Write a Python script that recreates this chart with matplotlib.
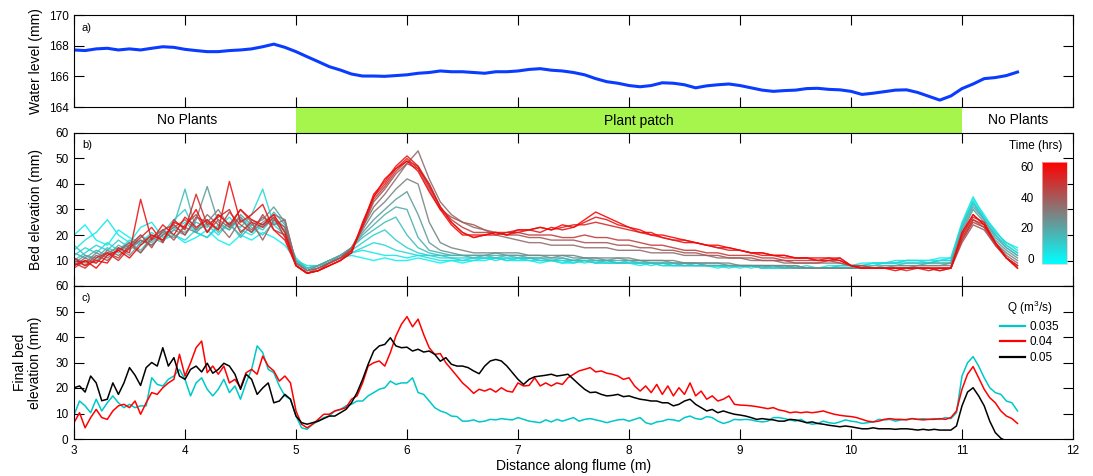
import numpy as np
import matplotlib

matplotlib.use("Agg")
import matplotlib.pyplot as plt  # noqa: E402
from matplotlib.cm import ScalarMappable  # noqa: E402
from matplotlib.colors import LinearSegmentedColormap, Normalize  # noqa: E402
from matplotlib.lines import Line2D  # noqa: E402

plt.rcParams["font.family"] = ["Liberation Sans", "DejaVu Sans"]
plt.rcParams["mathtext.fontset"] = "custom"
plt.rcParams["mathtext.rm"] = "Liberation Sans"

# ---- a) water level, sampled every 0.1 m from 3.0 to 11.5 m ----
wl_distance = np.round(np.arange(3.0, 11.55, 0.1), 2)
water_level = [
    167.72, 167.68, 167.79, 167.83, 167.72, 167.79, 167.72, 167.83, 167.93, 167.89,
    167.76, 167.68, 167.61, 167.61, 167.68, 167.72, 167.79, 167.93, 168.10, 167.89,
    167.61, 167.28, 166.96, 166.63, 166.41, 166.15, 166.02, 166.02, 166.00, 166.05,
    166.10, 166.20, 166.25, 166.35, 166.30, 166.30, 166.25, 166.20, 166.30, 166.30,
    166.35, 166.45, 166.50, 166.40, 166.35, 166.25, 166.10, 165.85, 165.65, 165.55,
    165.40, 165.32, 165.40, 165.58, 165.55, 165.45, 165.25, 165.38, 165.45, 165.50,
    165.40, 165.25, 165.10, 165.02, 165.07, 165.10, 165.20, 165.22, 165.15, 165.12,
    165.02, 164.82, 164.90, 165.00, 165.10, 165.12, 164.95, 164.70, 164.45, 164.72,
    165.20, 165.50, 165.85, 165.92, 166.05, 166.28,
]

# ---- b) bed profiles through time, sampled every 0.1 m ----
bed_distance = np.round(np.arange(3.0, 11.55, 0.1), 2)
bed_times = [0, 3, 6, 9, 13, 17, 22, 28, 34, 40, 46, 52, 57, 62]
bed_profiles = [
    [20, 24, 18, 16, 22, 19, 17, 21, 18, 20, 17, 19, 22, 18, 16, 20, 18, 21, 19, 16,
     10, 7, 8, 9, 11, 12, 11, 10, 11, 10, 10, 11, 10, 9, 10, 9, 10, 10, 11, 10,
     10, 10, 9, 10, 9, 9, 10, 9, 9, 9, 9, 8, 9, 8, 8, 8, 9, 8, 7, 8,
     7, 8, 7, 7, 8, 7, 7, 7, 8, 8, 8, 8, 9, 9, 9, 10, 10, 10, 11, 11,
     24, 34, 28, 21, 17, 15],
    [14, 18, 21, 26, 20, 17, 23, 25, 19, 22, 25, 21, 19, 23, 27, 22, 20, 24, 26, 21,
     11, 7, 8, 10, 11, 13, 14, 13, 12, 12, 11, 12, 11, 10, 10, 10, 10, 11, 10, 11,
     10, 11, 10, 10, 9, 10, 9, 10, 9, 9, 9, 9, 8, 9, 8, 8, 8, 8, 8, 7,
     8, 7, 8, 7, 7, 8, 7, 7, 7, 8, 8, 9, 9, 9, 10, 10, 10, 10, 10, 11,
     25, 35, 27, 22, 16, 13],
    [12, 15, 13, 17, 14, 18, 16, 19, 22, 20, 18, 22, 24, 20, 25, 23, 28, 38, 24, 20,
     10, 8, 8, 10, 12, 13, 15, 17, 16, 14, 13, 12, 12, 11, 11, 10, 11, 11, 11, 10,
     11, 10, 10, 10, 10, 9, 10, 9, 9, 9, 9, 9, 9, 8, 8, 9, 8, 8, 8, 8,
     8, 8, 7, 7, 8, 7, 8, 7, 7, 8, 8, 8, 9, 9, 9, 10, 10, 9, 10, 10,
     23, 33, 27, 21, 17, 14],
    [10, 13, 16, 14, 18, 15, 20, 17, 21, 26, 30, 21, 19, 24, 22, 27, 23, 20, 25, 22,
     10, 7, 8, 9, 12, 14, 17, 20, 22, 18, 15, 13, 12, 12, 11, 11, 11, 11, 11, 11,
     11, 11, 10, 10, 10, 10, 10, 9, 10, 9, 9, 9, 9, 9, 8, 8, 8, 8, 8, 8,
     8, 8, 8, 7, 7, 8, 7, 7, 7, 7, 7, 8, 8, 9, 9, 9, 9, 9, 10, 10,
     24, 33, 26, 20, 16, 13],
    [16, 12, 11, 15, 13, 17, 14, 19, 17, 24, 38, 22, 26, 21, 25, 19, 24, 22, 27, 23,
     9, 7, 8, 10, 12, 15, 19, 22, 25, 27, 20, 15, 13, 12, 12, 12, 11, 12, 11, 12,
     11, 11, 11, 10, 11, 10, 10, 10, 10, 9, 10, 9, 9, 9, 9, 8, 8, 8, 8, 8,
     8, 8, 7, 8, 7, 7, 7, 7, 7, 7, 7, 7, 8, 8, 8, 9, 9, 9, 9, 9,
     23, 32, 26, 20, 15, 12],
    [13, 11, 14, 12, 16, 14, 18, 16, 20, 23, 21, 25, 23, 28, 24, 20, 26, 23, 29, 24,
     10, 6, 8, 10, 12, 15, 20, 24, 28, 31, 30, 19, 14, 13, 12, 12, 12, 12, 12, 12,
     12, 11, 11, 11, 11, 10, 11, 10, 10, 10, 10, 10, 9, 9, 9, 9, 9, 8, 8, 8,
     8, 8, 8, 8, 7, 7, 7, 7, 7, 7, 7, 7, 7, 8, 8, 8, 8, 9, 9, 9,
     22, 31, 26, 19, 15, 12],
    [9, 12, 10, 13, 15, 12, 17, 20, 18, 22, 20, 26, 39, 25, 22, 28, 24, 26, 31, 25,
     9, 6, 8, 10, 12, 15, 21, 26, 30, 34, 37, 28, 17, 14, 13, 12, 12, 12, 13, 12,
     12, 12, 12, 11, 12, 11, 11, 11, 10, 11, 10, 10, 10, 10, 9, 9, 9, 9, 9, 8,
     8, 8, 8, 8, 8, 7, 7, 7, 7, 7, 7, 7, 7, 7, 8, 8, 8, 8, 8, 9,
     21, 30, 25, 18, 14, 11],
    [11, 9, 13, 11, 14, 16, 13, 18, 21, 19, 23, 21, 25, 30, 23, 27, 21, 25, 28, 26,
     9, 6, 7, 9, 11, 15, 22, 29, 33, 38, 42, 40, 25, 17, 15, 14, 13, 13, 13, 13,
     13, 12, 12, 12, 12, 12, 11, 11, 11, 11, 11, 10, 10, 10, 10, 9, 9, 9, 9, 9,
     8, 8, 8, 8, 8, 8, 7, 7, 7, 7, 7, 7, 7, 7, 7, 7, 8, 8, 8, 8,
     20, 28, 24, 17, 13, 10],
    [8, 11, 9, 14, 12, 15, 18, 16, 20, 23, 26, 22, 28, 24, 19, 26, 22, 27, 24, 26,
     9, 6, 7, 9, 11, 15, 23, 31, 36, 42, 48, 53, 42, 33, 28, 25, 23, 22, 20, 19,
     18, 17, 17, 16, 16, 16, 15, 15, 15, 14, 14, 14, 13, 13, 13, 12, 12, 12, 11, 11,
     11, 10, 10, 10, 9, 9, 9, 9, 9, 9, 8, 8, 7, 7, 7, 7, 7, 7, 7, 7,
     18, 26, 23, 17, 12, 9],
    [10, 8, 12, 10, 14, 17, 13, 19, 22, 18, 24, 28, 21, 26, 23, 30, 25, 18, 26, 23,
     8, 5, 7, 9, 11, 14, 23, 33, 38, 44, 48, 46, 38, 30, 27, 25, 24, 22, 21, 20,
     20, 19, 19, 18, 18, 18, 17, 17, 17, 16, 16, 15, 15, 14, 14, 13, 13, 12, 12, 11,
     11, 11, 10, 10, 10, 9, 9, 9, 10, 9, 8, 8, 7, 7, 7, 7, 7, 7, 7, 7,
     17, 24, 22, 16, 11, 8],
    [7, 10, 9, 13, 11, 16, 20, 15, 22, 24, 20, 27, 25, 22, 29, 24, 21, 28, 22, 20,
     8, 5, 6, 9, 11, 14, 23, 34, 39, 45, 49, 47, 40, 31, 26, 23, 21, 21, 21, 20,
     21, 20, 20, 20, 19, 19, 20, 19, 19, 18, 18, 17, 16, 16, 15, 14, 14, 13, 13, 12,
     12, 12, 11, 11, 10, 10, 10, 10, 10, 10, 8, 7, 7, 7, 7, 6, 7, 7, 6, 7,
     18, 25, 23, 16, 11, 8],
    [9, 7, 11, 13, 10, 15, 19, 23, 17, 26, 22, 36, 24, 27, 30, 21, 25, 23, 27, 19,
     8, 5, 6, 8, 10, 14, 24, 35, 40, 46, 50, 46, 40, 31, 25, 21, 19, 20, 21, 21,
     22, 22, 23, 22, 23, 24, 24, 25, 24, 23, 22, 21, 20, 19, 18, 18, 17, 16, 15, 14,
     14, 13, 12, 12, 11, 11, 11, 10, 11, 11, 8, 7, 7, 7, 7, 7, 7, 6, 7, 7,
     19, 26, 24, 17, 11, 8],
    [11, 8, 10, 9, 15, 13, 34, 18, 24, 20, 27, 23, 26, 22, 41, 25, 28, 32, 22, 18,
     8, 5, 6, 8, 10, 13, 24, 36, 41, 47, 51, 47, 39, 31, 25, 21, 19, 20, 20, 21,
     21, 22, 21, 23, 22, 23, 25, 27, 26, 24, 23, 21, 21, 19, 18, 17, 17, 16, 15, 15,
     14, 13, 13, 12, 12, 11, 11, 10, 10, 11, 8, 7, 7, 7, 6, 7, 7, 7, 6, 7,
     20, 27, 25, 17, 11, 7],
    [8, 10, 7, 12, 14, 11, 16, 20, 18, 25, 23, 30, 21, 28, 24, 30, 26, 24, 28, 21,
     8, 5, 6, 8, 10, 13, 25, 35, 42, 46, 49, 45, 37, 30, 24, 20, 20, 20, 21, 20,
     22, 22, 23, 22, 24, 23, 26, 29, 27, 25, 23, 22, 20, 20, 19, 18, 17, 16, 16, 15,
     14, 13, 13, 12, 12, 11, 11, 11, 11, 10, 8, 7, 7, 7, 7, 7, 7, 7, 7, 7,
     21, 28, 24, 17, 11, 7],
]

# ---- c) final bed for three discharges, sampled every 0.05 m ----
final_distance = np.round(np.arange(3.0, 11.525, 0.05), 2)
discharges = ["0.035", "0.04", "0.05"]
final_q035 = [
    9.4, 14.9, 13.0, 10.3, 15.6, 11.0, 14.2, 16.9, 14.2, 12.3,
    13.6, 12.3, 13.0, 13.0, 24.0, 21.4, 20.8, 23.4, 24.7, 27.3,
    23.4, 16.9, 22.0, 24.0, 19.5, 16.9, 19.5, 23.4, 18.2, 20.8,
    15.6, 22.0, 27.3, 36.5, 33.9, 27.3, 26.0, 20.8, 16.9, 15.6,
    9.0, 4.4, 3.8, 5.8, 7.0, 8.4, 9.0, 11.0, 11.6, 13.0,
    13.6, 14.9, 14.9, 16.9, 18.2, 19.5, 20.1, 22.7, 21.4, 22.0,
    22.0, 24.0, 18.2, 17.5, 14.9, 12.3, 11.0, 10.3, 9.0, 8.8,
    7.0, 7.0, 7.5, 6.7, 7.0, 7.7, 7.5, 8.0, 7.7, 7.5,
    8.4, 7.7, 7.0, 6.7, 6.4, 7.5, 6.7, 7.7, 7.0, 7.7,
    8.4, 7.0, 7.7, 8.0, 7.5, 7.0, 6.4, 7.0, 7.5, 7.7,
    7.0, 7.7, 8.4, 6.4, 5.8, 6.7, 7.0, 7.7, 7.5, 7.0,
    8.4, 9.0, 8.0, 7.7, 8.8, 8.4, 7.0, 6.1, 6.7, 7.7,
    7.5, 7.7, 7.5, 7.0, 6.7, 7.0, 8.4, 8.4, 8.0, 7.5,
    7.0, 7.7, 6.4, 5.8, 6.1, 7.0, 6.4, 6.1, 6.7, 7.5,
    7.0, 6.7, 6.1, 6.4, 6.7, 7.7, 7.5, 7.7, 7.0, 7.5,
    7.7, 8.0, 7.7, 8.0, 7.7, 8.0, 7.7, 8.4, 8.0, 10.3,
    24.7, 29.9, 32.3, 28.6, 24.0, 20.1, 18.2, 17.5, 14.9, 14.2, 11.0,
]
final_q04 = [
    6.4, 10.3, 4.4, 8.4, 11.6, 8.4, 7.7, 11.0, 13.0, 13.6,
    12.3, 14.9, 9.7, 14.2, 18.2, 17.5, 20.1, 22.0, 23.4, 33.2,
    24.7, 29.9, 35.8, 38.4, 26.0, 28.6, 25.4, 28.6, 22.0, 23.4,
    20.1, 26.0, 27.3, 25.4, 32.5, 28.6, 26.7, 22.7, 24.7, 22.0,
    11.0, 5.8, 4.4, 5.8, 7.7, 9.7, 9.7, 11.0, 11.6, 12.3,
    15.6, 16.9, 22.0, 28.6, 29.9, 30.6, 28.6, 33.9, 40.4, 45.0,
    48.0, 44.0, 47.0, 41.0, 35.8, 33.2, 33.5, 29.9, 27.3, 24.7,
    22.0, 20.1, 17.9, 19.5, 18.8, 19.7, 18.4, 20.1, 18.8, 18.4,
    22.0, 20.8, 21.0, 24.0, 20.8, 22.0, 20.8, 22.0, 21.4, 24.0,
    25.4, 26.7, 27.3, 28.0, 26.3, 26.7, 25.8, 25.4, 24.7, 23.4,
    24.0, 20.8, 18.8, 20.8, 18.2, 21.4, 17.5, 20.8, 16.9, 20.1,
    17.5, 22.0, 16.9, 18.8, 15.6, 16.9, 14.9, 15.6, 16.9, 13.6,
    13.3, 13.2, 13.0, 12.7, 12.3, 11.9, 12.3, 11.4, 11.0, 10.3,
    10.6, 10.3, 10.6, 10.3, 10.6, 11.0, 10.3, 9.7, 9.3, 9.0,
    8.8, 8.4, 7.7, 7.0, 6.7, 7.0, 7.7, 8.0, 7.7, 7.7,
    7.5, 8.0, 7.7, 7.5, 7.7, 7.7, 8.0, 7.7, 8.4, 11.0,
    19.5, 25.4, 28.4, 24.0, 19.5, 16.2, 14.2, 11.0, 9.0, 8.0, 6.1,
]
final_q05 = [
    20.1, 20.8, 18.4, 24.7, 22.0, 15.0, 15.6, 22.0, 17.5, 22.0,
    28.0, 25.0, 21.0, 28.0, 30.0, 28.6, 35.8, 28.6, 31.9, 24.7,
    23.4, 27.3, 28.6, 26.3, 29.7, 25.8, 27.3, 29.7, 28.6, 25.4,
    19.5, 25.4, 23.4, 17.5, 20.0, 22.0, 14.2, 14.9, 17.5, 15.6,
    9.0, 6.4, 5.8, 6.4, 7.0, 8.0, 9.0, 9.0, 10.3, 11.6,
    14.2, 18.2, 23.4, 29.3, 34.5, 36.5, 37.1, 39.7, 36.5, 35.8,
    36.0, 34.5, 35.2, 34.1, 34.5, 33.2, 30.5, 31.9, 29.3, 28.6,
    28.6, 28.0, 26.7, 25.6, 28.6, 30.6, 31.2, 30.6, 28.6, 26.0,
    23.4, 21.4, 23.4, 24.4, 24.7, 25.0, 25.4, 24.7, 25.0, 25.4,
    23.4, 21.4, 19.5, 18.2, 18.4, 17.5, 16.9, 17.1, 17.5, 16.6,
    16.9, 16.2, 15.6, 15.3, 14.9, 14.9, 14.2, 14.2, 13.0, 13.6,
    14.9, 15.6, 13.6, 12.3, 11.0, 11.6, 10.3, 11.0, 10.3, 9.7,
    9.4, 9.0, 8.4, 7.7, 8.0, 7.7, 7.5, 7.0, 7.0, 7.7,
    7.5, 7.0, 6.4, 6.7, 6.1, 5.8, 5.4, 5.1, 4.8, 5.1,
    4.8, 4.4, 4.0, 4.0, 4.4, 4.0, 4.0, 4.0, 3.8, 4.0,
    4.0, 3.8, 3.5, 3.8, 3.5, 3.8, 3.5, 3.5, 3.5, 5.1,
    13.0, 18.4, 20.1, 16.9, 13.0, 7.0, 2.5, 0.3, -0.8,
]
final_colors = ["#00c8c8", "#ff0000", "#000000"]

# patch layout along the flume
zones = [(3.0, 5.0, "No Plants", 4.02), (5.0, 11.0, "Plant patch", 8.09),
         (11.0, 12.0, "No Plants", 11.51)]
PATCH_GREEN = "#a6f54c"

W, H = 1093, 476
fig = plt.figure(figsize=(W / 100, H / 100), dpi=100)


def px_axes(x0, y0, x1, y1):
    """Axes from pixel box (top-left origin)."""
    return fig.add_axes([x0 / W, 1 - y1 / H, (x1 - x0) / W, (y1 - y0) / H])


L, R = 74, 1073
ax_a = px_axes(L, 15, R, 107)
ax_band = px_axes(L, 108, R, 133)
ax_b = px_axes(L, 133, R, 286)
ax_c = px_axes(L, 286, R, 439)

for ax in (ax_a, ax_b, ax_c):
    ax.set_xlim(3, 12)
    ax.set_xticks(range(3, 13))
    ax.tick_params(direction="in", length=7, width=0.8, top=True, right=True,
                   labelsize=8.5, pad=4)
    for sp in ax.spines.values():
        sp.set_linewidth(0.8)

# a) water level
ax_a.plot(wl_distance, water_level, color="#0a3cff", lw=2.2)
ax_a.set_ylim(164, 170)
ax_a.set_yticks([164, 166, 168, 170])
ax_a.tick_params(labelbottom=False)
ax_a.set_ylabel("Water level (mm)", fontsize=10)
ax_a.yaxis.set_label_coords(-0.031, 0.5)
ax_a.text(0.008, 0.86, "a)", transform=ax_a.transAxes, fontsize=8, va="center")

# plant patch band
ax_band.set_xlim(3, 12)
ax_band.set_ylim(0, 1)
ax_band.axis("off")
for x0, x1, label, xc in zones:
    if label == "Plant patch":
        ax_band.axvspan(x0, x1, color=PATCH_GREEN, lw=0)
    ax_band.text(xc, 0.5, label, ha="center", va="center", fontsize=10)

# b) bed elevation through time
cmap = LinearSegmentedColormap.from_list("cyan_red", ["#00ffff", "#ff0000"])
norm = Normalize(-3.7, 62.9)
for t, prof in zip(bed_times, bed_profiles):
    ax_b.plot(bed_distance, prof, color=cmap(norm(t)), lw=1.0, alpha=0.9)
ax_b.set_ylim(0, 60)
ax_b.set_yticks(range(0, 61, 10), ["", "10", "20", "30", "40", "50", "60"])
ax_b.tick_params(labelbottom=False)
ax_b.set_ylabel("Bed elevation (mm)", fontsize=10)
ax_b.yaxis.set_label_coords(-0.031, 0.5)
ax_b.text(0.008, 0.92, "b)", transform=ax_b.transAxes, fontsize=8, va="center")

cax = px_axes(1042, 162, 1067, 264)
cbar = fig.colorbar(ScalarMappable(norm=norm, cmap=cmap), cax=cax,
                    ticks=[0, 20, 40, 60])
cax.yaxis.set_ticks_position("left")
cax.tick_params(length=0, labelsize=8.5, pad=6)
cbar.outline.set_edgecolor("#f0c0c0")
cbar.outline.set_linewidth(0.5)
fig.text(1036 / W, 1 - 146 / H, "Time (hrs)", ha="center", va="center",
         fontsize=8.5)

# c) final bed elevation for each discharge
ax_c.plot(final_distance, final_q035, color=final_colors[0], lw=1.1)
ax_c.plot(final_distance, final_q04, color=final_colors[1], lw=1.1)
ax_c.plot(final_distance[:len(final_q05)], final_q05, color=final_colors[2], lw=1.1)
ax_c.set_ylim(0, 60)
ax_c.set_yticks(range(0, 61, 10))
ax_c.set_xlabel("Distance along flume (m)", fontsize=10, labelpad=2)
ax_c.set_ylabel("Final bed\nelevation (mm)", fontsize=10, linespacing=1.1)
ax_c.yaxis.set_label_coords(-0.032, 0.5)
ax_c.text(0.008, 0.92, "c)", transform=ax_c.transAxes, fontsize=8, va="center")

handles = [Line2D([], [], color=c, lw=1.6) for c in final_colors]
leg = ax_c.legend(handles, discharges, title="Q (m$^3$/s)", frameon=False,
                  loc="upper left", bbox_to_anchor=(994 / W, 1 - 293 / H),
                  bbox_transform=fig.transFigure, fontsize=8.5,
                  title_fontsize=8.5, handlelength=2.1, handletextpad=0.4,
                  labelspacing=0.3, borderpad=0)

fig.savefig("out.png", dpi=100)
